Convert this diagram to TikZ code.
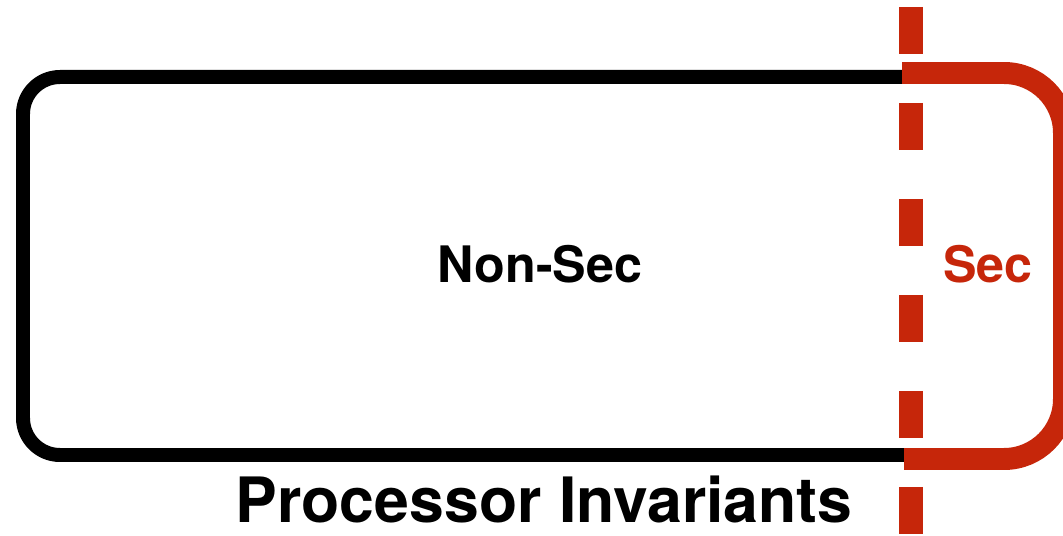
\documentclass[tikz,border=0pt]{standalone}
\usepackage{fontspec}
\setmainfont{TeX Gyre Heros}
\usepackage{tikz}
\definecolor{secred}{RGB}{198,38,10}

\tikzset{
    boxline/.style={line width=0.28cm, rounded corners=0.74cm},
    secline/.style={secred, line width=0.44cm, rounded corners=1.2cm},
    splitline/.style={secred, line width=0.48cm, dash pattern=on 0.94cm off 0.98cm},
    lbl/.style={anchor=base, inner sep=0pt, font=\bfseries\fontsize{28.6}{30}\selectfont}
}

\begin{document}
\begin{tikzpicture}[x=0.02cm, y=0.02cm]

            \useasboundingbox (0,0) rectangle (1063,535);

            % corners of the two regions
            \coordinate (nsTR) at (904,458);
            \coordinate (nsTL) at (23,458);
            \coordinate (nsBL) at (23,80);
            \coordinate (nsBR) at (904,80);

            \coordinate (sTL) at (902,462);
            \coordinate (sTR) at (1064,462);
            \coordinate (sBR) at (1064,76);
            \coordinate (sBL) at (904,76);

            \draw[boxline] (nsTR) -- (nsTL) -- (nsBL) -- (nsBR);
            \draw[secline] (sTL) -- (sTR) -- (sBR) -- (sBL);

            % boundary
            \coordinate (cutTop) at (911,528);
            \coordinate (cutBot) at (911,-20);
            \draw[splitline] (cutTop) -- (cutBot);

            \node[lbl] (nonsec) at (540,252) {Non-Sec};
            \node[lbl, secred] (sec) at (988,252) {Sec};
            \node[lbl, font=\bfseries\fontsize{35.6}{38}\selectfont] (title) at (544,12) {Processor Invariants};

\end{tikzpicture}
\end{document}
